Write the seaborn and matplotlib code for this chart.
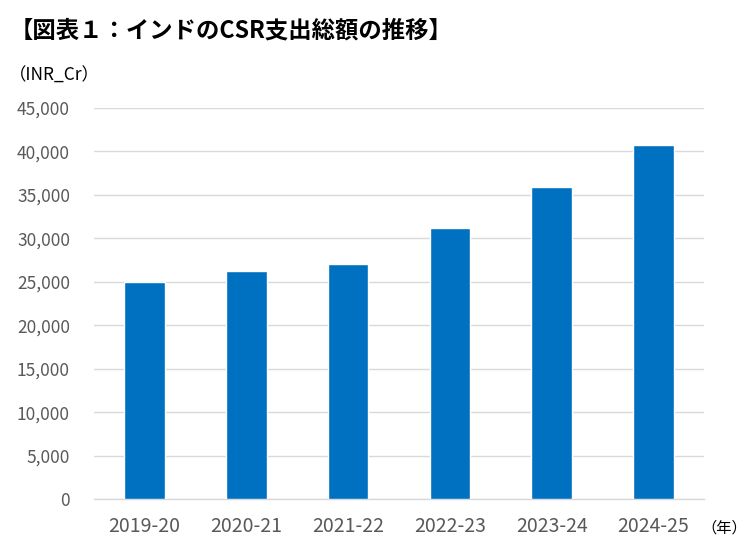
import matplotlib
matplotlib.use("Agg")
import matplotlib.pyplot as plt
import seaborn as sns
import pandas as pd
from matplotlib.ticker import FuncFormatter, MultipleLocator

years = ["2019-20", "2020-21", "2021-22", "2022-23", "2023-24", "2024-25"]
csr_spend = [25000, 26200, 27100, 31200, 35900, 40700]

sns.set_theme(style="white")
plt.rcParams['font.family'] = ['Noto Sans CJK JP', 'DejaVu Sans']

df = pd.DataFrame({"year": years, "value": csr_spend})

fig = plt.figure(figsize=(7.51, 5.53), dpi=100)
ax = fig.add_axes([0.1246, 0.0976, 0.8134, 0.7071])
sns.barplot(data=df, x="year", y="value", color="#0070C0", width=0.4,
            saturation=1, ax=ax, zorder=3)
ax.set_ylim(0, 45000)
ax.set_xlim(-0.5, len(years) - 0.5)
ax.yaxis.set_major_locator(MultipleLocator(5000))
ax.yaxis.set_major_formatter(FuncFormatter(lambda v, p: f"{int(v):,}"))
ax.grid(axis="y", color="#d9d9d9", linewidth=1, zorder=0)
for s in ["top", "right", "left"]:
    ax.spines[s].set_visible(False)
ax.spines["bottom"].set_color("#d9d9d9")
ax.spines["bottom"].set_linewidth(1)
ax.set_xlabel("")
ax.set_ylabel("")
ax.tick_params(axis="y", length=0, pad=17, labelsize=12.5, labelcolor="#595959")
ax.tick_params(axis="x", length=0, pad=12, labelsize=14, labelcolor="#595959")

fig.text(0.013, 0.945, "【図表１：インドのCSR支出総額の推移】", fontsize=16.8,
         fontweight="bold", color="#000000", va="center", ha="left")
fig.text(0.012, 0.863, "（INR_Cr）", fontsize=12.5, color="#000000",
         va="center", ha="left")
fig.text(0.934, 0.046, "（年）", fontsize=11, color="#000000",
         va="center", ha="left")

fig.savefig("out.png", dpi=100)
